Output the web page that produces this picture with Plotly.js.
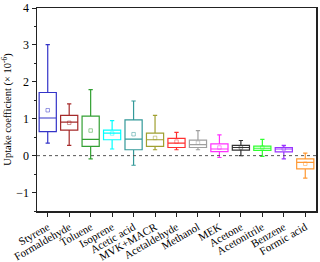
<!DOCTYPE html>
<html>
<head>
<meta charset="utf-8">
<script src="https://cdn.plot.ly/plotly-3.0.1.min.js"></script>
<style>html,body{margin:0;padding:0;background:#fff;}#chart{width:320px;height:262px;}</style>
</head>
<body>
<div id="chart"></div>
<script>
var categories = ["Styrene","Formaldehyde","Toluene","Isoprene","Acetic acid","MVK+MACR","Acetaldehyde","Methanol","MEK","Acetone","Acetonitrile","Benzene","Formic acid"];
var whiskerLow  = [0.34, 0.28, -0.09, 0.18, -0.26, 0.16, 0.16, 0.16, -0.05, 0.00, -0.02, -0.09, -0.61];
var q1Values    = [0.65, 0.69, 0.25, 0.43, 0.16, 0.25, 0.22, 0.22, 0.11, 0.15, 0.14, 0.10, -0.36];
var medianVals  = [1.02, 0.91, 0.44, 0.61, 0.45, 0.43, 0.34, 0.30, 0.18, 0.22, 0.20, 0.18, -0.18];
var q3Values    = [1.71, 1.09, 1.07, 0.69, 0.97, 0.61, 0.47, 0.42, 0.32, 0.28, 0.26, 0.22, -0.09];
var whiskerHigh = [3.01, 1.40, 1.79, 0.95, 1.48, 1.09, 0.63, 0.68, 0.56, 0.41, 0.44, 0.28, 0.07];
var meanValues  = [1.23, 0.89, 0.68, 0.60, 0.58, 0.48, 0.38, 0.35, 0.22, 0.22, 0.22, 0.19, -0.22];
var colors = ["#3434c8","#a52a2a","#33a033","#00ffff","#339999","#a0a030","#ff3030","#a0a0a0","#ff30ff","#333333","#30ff30","#9933ff","#ff9933"];

var traces = [];
categories.forEach(function(c, i){
  traces.push({
    type: "box",
    x: [c],
    q1: [q1Values[i]], median: [medianVals[i]], q3: [q3Values[i]],
    lowerfence: [whiskerLow[i]], upperfence: [whiskerHigh[i]],
    line: {color: colors[i], width: 1.2},
    fillcolor: "rgba(0,0,0,0)",
    whiskerwidth: 0.25,
    width: 0.8,
    boxpoints: false,
    hoverinfo: "skip",
    showlegend: false
  });
  traces.push({
    type: "scatter", mode: "markers",
    x: [c], y: [meanValues[i]],
    marker: {symbol: "square-open", size: 3.5, color: colors[i], opacity: 0.5, line: {width: 1}},
    showlegend: false, hoverinfo: "skip"
  });
});

var layout = {
  width: 320, height: 262,
  margin: {l: 37, r: 4, t: 8, b: 51},
  paper_bgcolor: "#fff", plot_bgcolor: "#fff",
  font: {family: "Liberation Serif, Times New Roman, serif", size: 11, color: "#000"},
  showlegend: false,
  xaxis: {
    type: "category", categoryarray: categories, categoryorder: "array",
    range: [-0.5, 12.5],
    showline: true, mirror: true, linecolor: "#222", linewidth: 1.5,
    ticks: "outside", ticklen: 4, tickcolor: "#222", tickwidth: 1,
    tickangle: -30, tickfont: {size: 11},
    showgrid: false, zeroline: false
  },
  yaxis: {
    range: [-1.5, 4],
    tickvals: [-1, 0, 1, 2, 3, 4],
    showline: true, mirror: true, linecolor: "#222", linewidth: 1.5,
    ticks: "outside", ticklen: 4, tickcolor: "#222", tickwidth: 1,
    minor: {ticks: "outside", ticklen: 2, dtick: 0.5, tickcolor: "#222"},
    tickfont: {size: 12},
    showgrid: false, zeroline: false,
    title: {text: "Uptake coefficient (× 10<sup>-6</sup>)", font: {size: 10.5}, standoff: 6}
  },
  shapes: [{type: "line", xref: "paper", x0: 0, x1: 1, yref: "y", y0: 0, y1: 0,
            line: {color: "#555", width: 1, dash: "dot"}}]
};

Plotly.newPlot("chart", traces, layout, {displayModeBar: false, staticPlot: true});
</script>
</body>
</html>
